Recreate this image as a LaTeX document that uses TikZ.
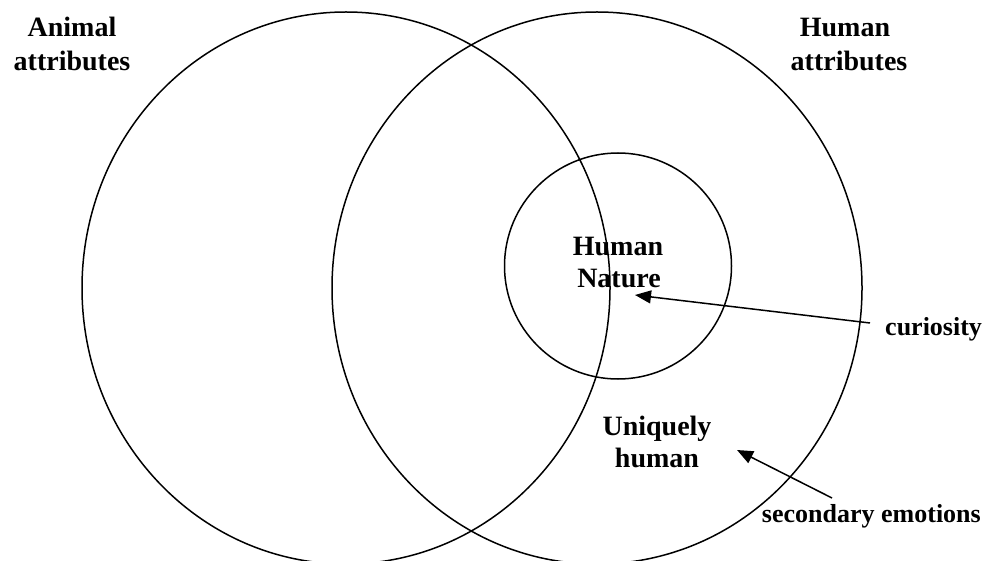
\documentclass[tikz,border=0pt]{standalone}
\usepackage{fontspec}
\setmainfont{Liberation Serif}
\usetikzlibrary{arrows.meta}
\tikzset{
  ring/.style={draw=black, line width=1.5pt},
  bigtitle/.style={font=\fontsize{28}{32}\selectfont\bfseries, inner sep=0pt, anchor=base},
  lbl/.style={font=\fontsize{26}{30}\selectfont\bfseries, inner sep=0pt, anchor=base},
  pointer/.style={draw=black, line width=1.5pt, -{Triangle[length=16pt,width=13pt]}}
}
\begin{document}
\begin{tikzpicture}[x=1pt,y=-1pt]
\useasboundingbox (0,0) rectangle (984,561);
\clip (0,0) rectangle (984,561);
% circles
\draw[ring] (346,288) ellipse [x radius=264, y radius=276];
\draw[ring] (597,288) ellipse [x radius=265, y radius=276];
\draw[ring] (618,266) ellipse [x radius=113.5, y radius=113];
% region titles
\node[bigtitle] (animal1) at (72,37) {Animal};
\node[bigtitle] (animal2) at (72,71) {attributes};
\node[bigtitle] (human1) at (845,37) {Human};
\node[bigtitle] (human2) at (849,71) {attributes};
\node[bigtitle] (nature1) at (618,255) {Human};
\node[bigtitle] (nature2) at (619,287) {Nature};
\node[bigtitle] (unique1) at (657,435) {Uniquely};
\node[bigtitle] (unique2) at (657,467) {human};
% labels
\node[lbl, anchor=base west] (cur) at (885,335) {curiosity};
\node[lbl, anchor=base east] (sec) at (981,522) {secondary emotions};
% arrows
\coordinate (curtail) at (870,323);
\coordinate (curtip) at (635,295);
\coordinate (sectail) at (832,498);
\coordinate (sectip) at (737,450);
\draw[pointer] (curtail) -- (curtip);
\draw[pointer] (sectail) -- (sectip);
\end{tikzpicture}
\end{document}
